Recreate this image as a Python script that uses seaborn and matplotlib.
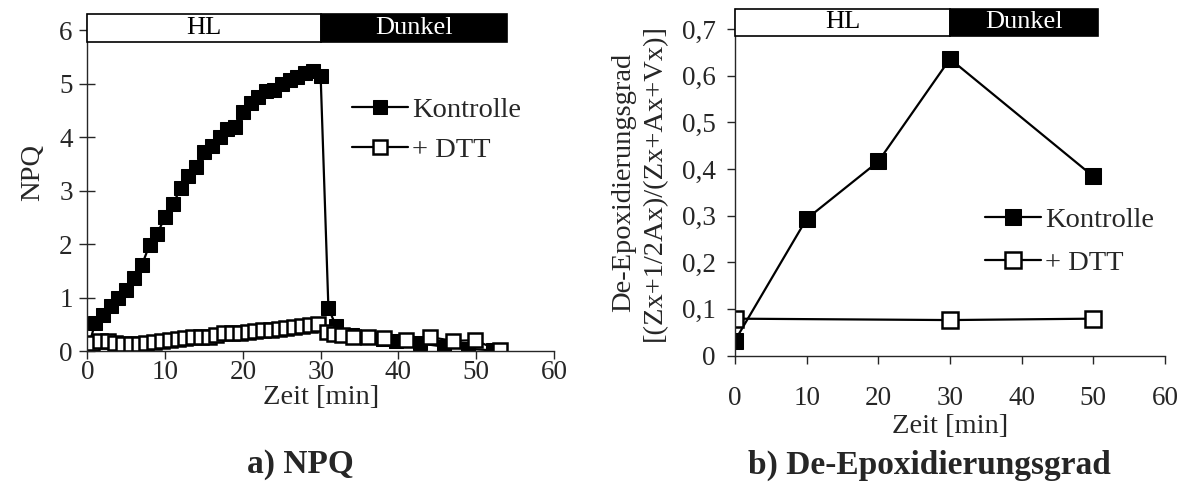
import seaborn as sns
import pandas as pd
import matplotlib.pyplot as plt
import matplotlib.transforms as mtransforms
from matplotlib.patches import Rectangle

# --- a) NPQ ---
npq_ctrl_t = [0, 1, 2, 3, 4, 5, 6, 7, 8, 9, 10, 11, 12, 13, 14, 15, 16, 17, 18, 19,
              20, 21, 22, 23, 24, 25, 26, 27, 28, 29, 30,
              31, 32, 34, 36, 38, 39.7, 42.8, 45.9, 49, 52.2]
npq_ctrl = [0.0, 0.53, 0.68, 0.85, 1.0, 1.15, 1.37, 1.61, 1.99, 2.2, 2.52, 2.75, 3.05,
            3.28, 3.44, 3.72, 3.84, 4.0, 4.15, 4.2, 4.48, 4.64, 4.75, 4.86, 4.88, 5.0,
            5.07, 5.13, 5.2, 5.24, 5.15,
            0.81, 0.47, 0.3, 0.27, 0.24, 0.19, 0.15, 0.09, 0.05, 0.02]
npq_dtt_t = [0, 0.6, 1.6, 2.6, 3.6, 4.6, 5.6, 6.6, 7.6, 8.6, 9.6, 10.6, 11.6, 12.6, 13.6,
             14.6, 15.6, 16.6, 17.6, 18.6, 19.6, 20.6, 21.6, 22.6, 23.6, 24.6, 25.6,
             26.6, 27.6, 28.6, 29.6,
             30.8, 31.7, 32.7, 34.2, 36.1, 38.1, 41.0, 44.0, 47.0, 49.8, 53.0]
npq_dtt = [0.10, 0.16, 0.19, 0.19, 0.16, 0.14, 0.14, 0.14, 0.16, 0.17, 0.19, 0.22, 0.23,
           0.25, 0.27, 0.28, 0.28, 0.31, 0.34, 0.35, 0.35, 0.37, 0.39, 0.40, 0.40, 0.42,
           0.44, 0.46, 0.47, 0.49, 0.52,
           0.37, 0.33, 0.30, 0.28, 0.27, 0.25, 0.21, 0.27, 0.20, 0.21, 0.02]

# --- b) De-Epoxidierungsgrad ---
deps_ctrl_t = [0, 10, 20, 30, 50]
deps_ctrl = [0.032, 0.293, 0.416, 0.636, 0.384]
deps_dtt_t = [0, 30, 50]
deps_dtt = [0.079, 0.076, 0.079]

# light / dark phases (min)
phase_names = ['HL', 'Dunkel']
phases_npq = [(0, 30), (30, 54)]
phases_deps = [(0, 30), (30, 50.6)]

sns.set_style('ticks')
plt.rcParams['font.family'] = ['Liberation Serif', 'DejaVu Serif']
plt.rcParams['axes.linewidth'] = 1.0

fig = plt.figure(figsize=(11.86, 4.95), dpi=100)
ax1 = fig.add_axes([0.0736, 0.2899, 0.3935, 0.682])
ax2 = fig.add_axes([0.6197, 0.2818, 0.3626, 0.701])

ctrl_kw = dict(color='black', marker='s', markerfacecolor='black', markeredgecolor='black',
               linewidth=1.6, estimator=None, sort=False)
dtt_kw = dict(color='black', marker='s', markerfacecolor='white', markeredgecolor='black',
              markeredgewidth=1.8, linewidth=1.6, estimator=None, sort=False)

df_a1 = pd.DataFrame({'t': npq_ctrl_t, 'v': npq_ctrl})
df_a2 = pd.DataFrame({'t': npq_dtt_t, 'v': npq_dtt})
sns.lineplot(data=df_a1, x='t', y='v', ax=ax1, markersize=10.5, label='Kontrolle', **ctrl_kw)
sns.lineplot(data=df_a2, x='t', y='v', ax=ax1, markersize=10.5, label='+ DTT', **dtt_kw)

df_b1 = pd.DataFrame({'t': deps_ctrl_t, 'v': deps_ctrl})
df_b2 = pd.DataFrame({'t': deps_dtt_t, 'v': deps_dtt})
sns.lineplot(data=df_b1, x='t', y='v', ax=ax2, markersize=12, label='Kontrolle', **ctrl_kw)
sns.lineplot(data=df_b2, x='t', y='v', ax=ax2, markersize=12, label='+ DTT', **dtt_kw)


def phase_bar(ax, phases, y0):
    trans = mtransforms.blended_transform_factory(ax.transData, ax.transAxes)
    for name, (a, b) in zip(phase_names, phases):
        dark = name == 'Dunkel'
        ax.add_patch(Rectangle((a, y0), b - a, 1 - y0, transform=trans, clip_on=False,
                               facecolor='black' if dark else 'white', edgecolor='black',
                               linewidth=1.2, zorder=5))
        ax.text((a + b) / 2, (1 + y0) / 2, name, transform=trans, ha='center', va='center',
                fontsize=19, color='white' if dark else 'black', zorder=6)


# left axes
ax1.set_xlim(0, 60)
ax1.set_ylim(0, 6.31)
ax1.set_xticks([0, 10, 20, 30, 40, 50, 60])
ax1.set_yticks([0, 1, 2, 3, 4, 5, 6])
ax1.tick_params(axis='y', direction='inout', length=11, width=1, labelsize=19.5, pad=5)
ax1.tick_params(axis='x', direction='out', length=6, width=1, labelsize=19.5, pad=0)
ax1.set_xlabel('Zeit [min]', fontsize=20.5)
ax1.set_ylabel('NPQ', fontsize=20.5)
ax1.xaxis.set_label_coords(0.5, -0.1)
ax1.yaxis.set_label_coords(-0.09, 0.53)
sns.despine(ax=ax1)
phase_bar(ax1, phases_npq, 5.79 / 6.31)
ax1.legend(loc='upper left', bbox_to_anchor=(352 / 1186, 1 - 97 / 495), bbox_transform=fig.transFigure,
           frameon=False, fontsize=20.5, handlelength=1.95, handletextpad=0.15, labelspacing=0.5,
           borderpad=0, borderaxespad=0)

# right axes
ax2.set_xlim(0, 60)
ax2.set_ylim(0, 0.744)
ax2.set_xticks([0, 10, 20, 30, 40, 50, 60])
ax2.set_yticks([0, 0.1, 0.2, 0.3, 0.4, 0.5, 0.6, 0.7])
ax2.set_yticklabels(['0', '0,1', '0,2', '0,3', '0,4', '0,5', '0,6', '0,7'])
ax2.tick_params(axis='y', direction='out', length=6, width=1, labelsize=19.5, pad=8)
ax2.tick_params(axis='x', direction='out', length=6, width=1, labelsize=19.5, pad=16)
ax2.set_xlabel('Zeit [min]', fontsize=20.5)
ax2.set_ylabel('De-Epoxidierungsgrad\n[(Zx+1/2Ax)/(Zx+Ax+Vx)]', fontsize=20.5, linespacing=1.3)
ax2.xaxis.set_label_coords(0.5, -0.17)
ax2.yaxis.set_label_coords(-0.158, 0.5)
sns.despine(ax=ax2)
phase_bar(ax2, phases_deps, 0.686 / 0.744)
ax2.legend(loc='upper left', bbox_to_anchor=(985 / 1186, 1 - 207 / 495), bbox_transform=fig.transFigure,
           frameon=False, fontsize=20.5, handlelength=1.95, handletextpad=0.15, labelspacing=0.6,
           borderpad=0, borderaxespad=0)

fig.text(300 / 1186, 1 - 465 / 495, 'a) NPQ', ha='center', va='center', fontsize=24, fontweight='bold')
fig.text(929 / 1186, 1 - 465 / 495, 'b) De-Epoxidierungsgrad', ha='center', va='center',
         fontsize=24, fontweight='bold')

fig.savefig('out.png', dpi=100)
